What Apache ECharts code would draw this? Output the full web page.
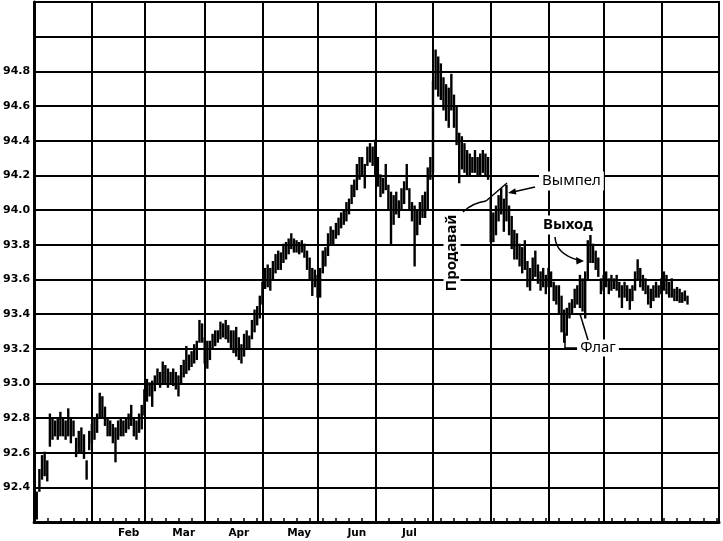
<!DOCTYPE html>
<html><head><meta charset="utf-8">
<script src="https://cdn.jsdelivr.net/npm/echarts@6/dist/echarts.min.js"></script>
<style>html,body{margin:0;padding:0;background:#fff}#c{width:723px;height:541px}</style>
</head><body><div id="c"></div>
<script>
// ---- axis structure (trading-day category axis) ----
const nCats = 262;
const monthStartIdx = [0, 22, 42, 65, 87, 108, 130, 152, 174, 196, 217, 239, 261];
const monthNames = ['Feb', 'Mar', 'Apr', 'May', 'Jun', 'Jul'];
const monthLabelIdx = [36, 57, 78, 101, 123, 143];
const yMin = 92.2, yMax = 95.2, yStep = 0.2;
const yLabelLow = 92.4, yLabelHigh = 94.8;
const firstBarIdx = 1;

// ---- daily highs / lows (month by month) ----
const janHi = [92.37,92.50,92.58,92.60,92.55,92.82,92.80,92.78,92.80,92.83,92.80,92.78,92.85,92.80,92.78,92.68,92.72,92.74,92.70,92.55,92.72];
const janLo = [92.22,92.38,92.45,92.47,92.44,92.64,92.68,92.70,92.68,92.70,92.70,92.68,92.70,92.66,92.70,92.58,92.60,92.60,92.57,92.45,92.62];
const febHi = [92.76,92.80,92.82,92.94,92.92,92.86,92.80,92.78,92.76,92.74,92.78,92.80,92.78,92.80,92.82,92.87,92.80,92.78,92.82,92.87];
const febLo = [92.66,92.68,92.72,92.80,92.80,92.76,92.70,92.70,92.66,92.55,92.68,92.70,92.70,92.72,92.74,92.76,92.70,92.68,92.72,92.74];
const marHi = [92.96,93.02,93.00,93.01,93.04,93.08,93.06,93.12,93.10,93.08,93.06,93.08,93.06,93.04,93.10,93.13,93.21,93.16,93.18,93.22,93.24,93.36,93.34];
const marLo = [92.82,92.90,92.93,92.87,92.96,93.00,92.98,93.00,93.00,92.98,93.00,92.99,92.97,92.93,93.00,93.04,93.06,93.08,93.10,93.12,93.14,93.24,93.24];
const aprHi = [93.26,93.24,93.24,93.28,93.30,93.30,93.35,93.34,93.36,93.33,93.30,93.30,93.32,93.26,93.22,93.28,93.30,93.27,93.36,93.42,93.44,93.50];
const aprLo = [93.12,93.09,93.14,93.20,93.22,93.24,93.26,93.27,93.26,93.24,93.20,93.18,93.16,93.14,93.12,93.16,93.20,93.20,93.26,93.30,93.34,93.38];
const mayHi = [93.58,93.66,93.68,93.66,93.70,93.74,93.76,93.75,93.80,93.81,93.83,93.86,93.83,93.82,93.81,93.82,93.80,93.76,93.72,93.66,93.65];
const mayLo = [93.46,93.55,93.56,93.54,93.60,93.64,93.66,93.66,93.70,93.72,93.75,93.78,93.76,93.76,93.75,93.76,93.73,93.66,93.60,93.51,93.56];
const junHi = [93.62,93.66,93.76,93.78,93.86,93.90,93.88,93.92,93.95,93.98,94.00,94.04,94.06,94.14,94.17,94.26,94.30,94.30,94.26,94.36,94.38,94.36];
const junLo = [93.50,93.50,93.64,93.68,93.74,93.80,93.80,93.84,93.86,93.90,93.92,93.94,93.98,94.04,94.08,94.12,94.18,94.20,94.13,94.26,94.28,94.26];
const julHi = [94.40,94.30,94.20,94.18,94.26,94.14,94.10,94.08,94.10,94.05,94.12,94.16,94.26,94.12,94.04,94.02,94.00,94.04,94.08,94.10,94.24,94.30];
const julLo = [94.20,94.14,94.08,94.10,94.12,94.00,93.80,93.92,93.98,93.96,94.00,94.04,94.12,94.00,93.94,93.68,93.86,93.92,93.96,93.96,94.00,94.18];
const augHi = [94.74,94.92,94.88,94.84,94.76,94.72,94.70,94.78,94.66,94.60,94.44,94.42,94.38,94.34,94.32,94.30,94.34,94.30,94.32,94.34,94.32,94.30];
const augLo = [94.22,94.70,94.66,94.64,94.58,94.52,94.48,94.58,94.48,94.38,94.16,94.24,94.22,94.20,94.20,94.22,94.22,94.20,94.20,94.22,94.20,94.18];
const sepHi = [94.06,93.98,94.02,94.08,94.12,94.06,94.14,94.02,93.96,93.88,93.86,93.80,93.78,93.82,93.70,93.66,93.72,93.76,93.68,93.64,93.66,93.62];
const sepLo = [93.82,93.82,93.86,93.94,93.98,93.88,93.94,93.86,93.78,93.72,93.72,93.68,93.64,93.66,93.56,93.54,93.60,93.62,93.58,93.54,93.56,93.52];
const octHi = [93.66,93.64,93.58,93.56,93.56,93.50,93.42,93.43,93.46,93.48,93.54,93.56,93.62,93.60,93.64,93.82,93.85,93.80,93.76,93.72,93.60];
const octLo = [93.56,93.56,93.48,93.46,93.40,93.30,93.24,93.28,93.38,93.40,93.44,93.46,93.44,93.42,93.38,93.60,93.70,93.70,93.66,93.62,93.52];
const novHi = [93.62,93.64,93.60,93.62,93.60,93.62,93.58,93.56,93.58,93.56,93.54,93.56,93.64,93.71,93.66,93.62,93.60,93.56,93.54,93.56,93.58,93.56];
const novLo = [93.54,93.56,93.52,93.54,93.55,93.54,93.50,93.44,93.50,93.48,93.43,93.48,93.54,93.60,93.56,93.54,93.52,93.46,93.44,93.48,93.50,93.50];
const decHi = [93.60,93.64,93.62,93.58,93.60,93.54,93.55,93.54,93.52,93.53,93.50];
const decLo = [93.52,93.54,93.52,93.50,93.50,93.48,93.48,93.47,93.47,93.48,93.46];

const highs = [].concat(janHi, febHi, marHi, aprHi, mayHi, junHi, julHi, augHi, sepHi, octHi, novHi, decHi);
const lows  = [].concat(janLo, febLo, marLo, aprLo, mayLo, junLo, julLo, augLo, sepLo, octLo, novLo, decLo);

const cats = [];
for (let i = 0; i < nCats; i++) cats.push(String(i));
const barData = highs.map((h, k) => [firstBarIdx + k, lows[k], h]);
const labelMap = {};
monthLabelIdx.forEach((ix, k) => { labelMap[ix] = monthNames[k]; });

const chart = echarts.init(document.getElementById('c'), null, { renderer: 'canvas' });

function renderBar(params, api) {
  const i = api.value(0);
  const pLo = api.coord([i, api.value(1)]);
  const pHi = api.coord([i, api.value(2)]);
  return {
    type: 'line',
    shape: { x1: pLo[0], y1: pHi[1] - 1, x2: pLo[0], y2: pLo[1] + 1 },
    style: { stroke: '#000', lineWidth: 2.4 }
  };
}

const black = '#000';
const option = {
  backgroundColor: '#fff',
  animation: false,
  grid: { left: 33, top: 2, right: 4, bottom: 19, show: true, borderColor: black, borderWidth: 2, backgroundColor: 'transparent' },
  xAxis: {
    type: 'category',
    data: cats,
    boundaryGap: false,
    axisLine: { show: true, lineStyle: { color: black, width: 3 } },
    axisTick: { show: true, inside: true, length: 4, interval: (i) => i % 5 === 0 && i > 0 && i < nCats - 1, lineStyle: { color: black, width: 1.5 } },
    axisLabel: { show: true, interval: (i) => labelMap[i] !== undefined, formatter: (v, i) => labelMap[i] || '', color: black, fontSize: 10.5, fontWeight: 'bold', fontFamily: 'DejaVu Sans', margin: 6 },
    splitLine: { show: true, interval: (i) => monthStartIdx.indexOf(i) >= 0, lineStyle: { color: black, width: 2 } }
  },
  yAxis: {
    type: 'value',
    min: yMin, max: yMax, interval: yStep,
    axisLine: { show: true, lineStyle: { color: black, width: 3 } },
    axisTick: { show: false },
    axisLabel: {
      color: black, fontSize: 11, fontWeight: 'bold', fontFamily: 'DejaVu Sans', margin: 4,
      formatter: (v) => (v > yLabelLow - 0.01 && v < yLabelHigh + 0.01) ? v.toFixed(1) : ''
    },
    splitLine: { show: true, lineStyle: { color: black, width: 2 } }
  },
  series: [{
    type: 'custom',
    renderItem: renderBar,
    data: barData,
    encode: { x: 0, y: [1, 2] },
    z: 5
  }],
  graphic: [
    // Вымпел
    { type: 'text', x: 539, y: 181, z: 100, style: { text: 'Вымпел', font: '15px "Noto Sans"', fill: black, verticalAlign: 'middle', backgroundColor: '#fff', padding: [2, 3] } },
    { type: 'line', z: 100, shape: { x1: 535, y1: 187, x2: 513, y2: 192 }, style: { stroke: black, lineWidth: 1.5 } },
    { type: 'polygon', z: 100, shape: { points: [[508, 193], [516.4, 194.4], [515.2, 188.3]] }, style: { fill: black } },
    // Выход
    { type: 'text', x: 540, y: 225, z: 100, style: { text: 'Выход', font: 'bold 15px "Noto Sans"', fill: black, verticalAlign: 'middle', backgroundColor: '#fff', padding: [2, 3] } },
    { type: 'bezierCurve', z: 100, shape: { x1: 555, y1: 237, cpx1: 556, cpy1: 254, x2: 578, y2: 260 }, style: { stroke: black, lineWidth: 1.5, fill: null } },
    { type: 'polygon', z: 100, shape: { points: [[584, 261], [576, 257], [576.5, 264.5]] }, style: { fill: black } },
    // Продавай
    { type: 'text', x: 452, y: 253, rotation: Math.PI / 2, z: 100, style: { text: 'Продавай', font: 'bold 15px "Noto Sans"', fill: black, align: 'center', verticalAlign: 'middle', backgroundColor: '#fff', padding: [1, 2] } },
    { type: 'bezierCurve', z: 100, shape: { x1: 463, y1: 212, cpx1: 472, cpy1: 203, x2: 486, y2: 201 }, style: { stroke: black, lineWidth: 1.5, fill: null } },
    { type: 'line', z: 100, shape: { x1: 486, y1: 201, x2: 507, y2: 183 }, style: { stroke: black, lineWidth: 1.5 } },
    // Флаг
    { type: 'text', x: 598, y: 348, z: 100, style: { text: 'Флаг', font: '15px "Noto Sans"', fill: black, align: 'center', verticalAlign: 'middle', backgroundColor: '#fff', padding: [1, 3] } },
    { type: 'polyline', z: 100, shape: { points: [[565, 333], [565, 348], [577, 348]] }, style: { stroke: black, lineWidth: 1.5, fill: null } },
    { type: 'line', z: 100, shape: { x1: 588, y1: 340, x2: 580, y2: 314 }, style: { stroke: black, lineWidth: 1.5 } }
  ]
};
chart.setOption(option);
</script>
</body></html>
